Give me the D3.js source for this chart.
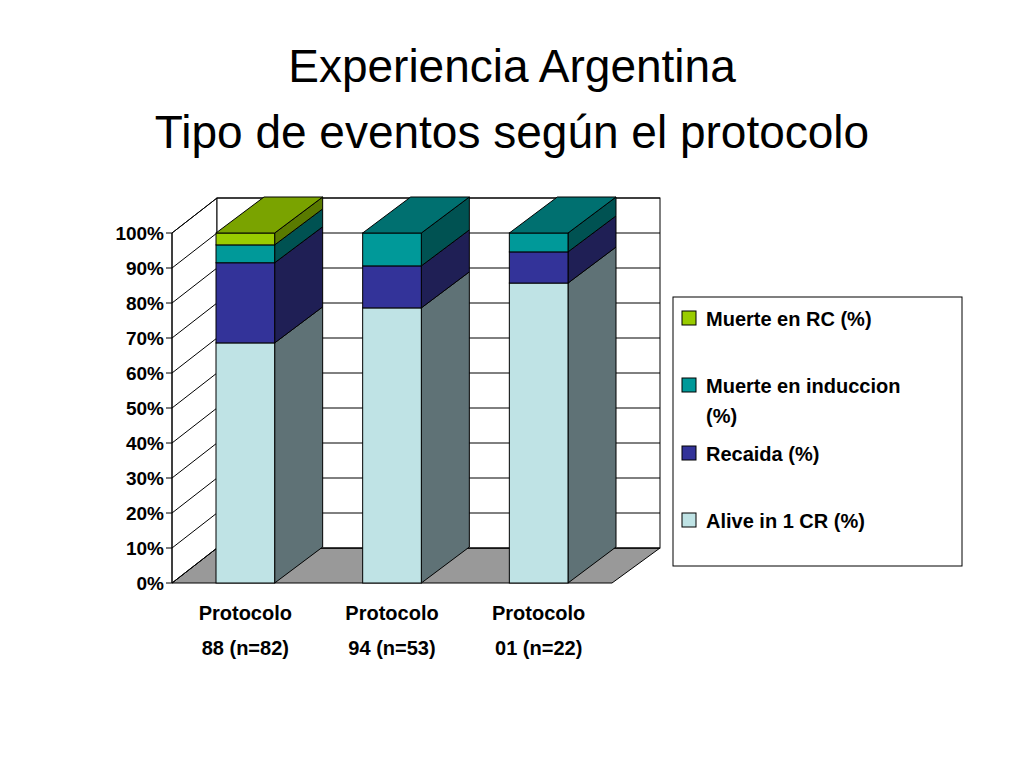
<!DOCTYPE html>
<html><head><meta charset="utf-8">
<script src="https://cdn.jsdelivr.net/npm/d3@7"></script>
<style>body{margin:0;background:#fff}text{font-family:"Liberation Sans",Arial,sans-serif}</style>
</head><body><div class="canvas"></div>
<script>
const categories = [['Protocolo', '88 (n=82)'], ['Protocolo', '94 (n=53)'], ['Protocolo', '01 (n=22)']];
const seriesNames = ['Alive in 1 CR (%)', 'Recaida (%)', 'Muerte en induccion (%)', 'Muerte en RC (%)'];
const alive = [68.6, 78.6, 85.7];
const recaida = [22.9, 12, 8.9];
const induccion = [5.1, 9.4, 5.4];
const muerteRC = [3.4, 0, 0];
const ticks = [0, 10, 20, 30, 40, 50, 60, 70, 80, 90, 100];

const frontFill = ['#bfe3e5', '#333399', '#009999', '#99cc00'];
const sideFill = ['#5f7276', '#1f1f55', '#005252', '#5a7a00'];
const topFill = ['#8fb0b2', '#262670', '#007070', '#7aa300'];

const svg = d3.select('.canvas').append('svg').attr('width', 1024).attr('height', 768);

// title
svg.append('text').attr('x', 512).attr('y', 82).attr('text-anchor', 'middle').attr('font-size', 46).text('Experiencia Argentina');
svg.append('text').attr('x', 512).attr('y', 148).attr('text-anchor', 'middle').attr('font-size', 46).text('Tipo de eventos según el protocolo');

const plot = { left: 172, right: 612, bottom: 583 };
const depth = { dx: 45, dy: -35 };
const y = d3.scaleLinear().domain([0, 100]).range([plot.bottom, 233]);
const x = d3.scaleBand().domain(d3.range(categories.length)).range([plot.left, plot.right]).paddingInner(0.6).paddingOuter(0.3);
const bd = { dx: 48, dy: -36 };
const poly = (pts) => 'M' + pts.map((p) => p.join(',')).join('L') + 'Z';

// floor
svg.append('path')
  .attr('d', poly([[plot.left, plot.bottom], [plot.right, plot.bottom], [plot.right + depth.dx + 3, plot.bottom + depth.dy], [plot.left + depth.dx, plot.bottom + depth.dy]]))
  .attr('fill', '#999').attr('stroke', '#000');
// walls
svg.append('path')
  .attr('d', poly([[plot.left, plot.bottom], [plot.left + depth.dx, plot.bottom + depth.dy], [plot.left + depth.dx, y(100) + depth.dy], [plot.left, y(100)]]))
  .attr('fill', '#fff').attr('stroke', '#000');
svg.append('rect')
  .attr('x', plot.left + depth.dx).attr('y', y(100) + depth.dy)
  .attr('width', plot.right + 3 - plot.left).attr('height', plot.bottom - y(100))
  .attr('fill', '#fff').attr('stroke', '#000');
// grid
ticks.forEach((t) => {
  svg.append('path')
    .attr('d', `M${plot.left},${y(t)}L${plot.left + depth.dx},${y(t) + depth.dy}L${plot.right + depth.dx + 3},${y(t) + depth.dy}`)
    .attr('fill', 'none').attr('stroke', '#000');
});
// axis
svg.append('line').attr('x1', plot.left).attr('x2', plot.left).attr('y1', y(0)).attr('y2', y(100)).attr('stroke', '#000');
ticks.forEach((t) => {
  svg.append('line').attr('x1', plot.left - 6).attr('x2', plot.left).attr('y1', y(t)).attr('y2', y(t)).attr('stroke', '#000');
  svg.append('text').attr('x', plot.left - 8).attr('y', y(t) + 7).attr('text-anchor', 'end')
    .attr('font-size', 19).attr('font-weight', 'bold').text(t + '%');
});

// bars
const series = [alive, recaida, induccion, muerteRC];
categories.forEach((c, i) => {
  const x0 = x(i), w = x.bandwidth();
  let base = 0;
  const segs = [];
  series.forEach((s, k) => { if (s[i] > 0) { segs.push({ k, y0: base, y1: base + s[i] }); base += s[i]; } });
  segs.forEach((sg, j) => {
    const yb = y(sg.y0), yt = y(sg.y1);
    svg.append('path').attr('d', poly([[x0 + w, yb], [x0 + w + bd.dx, yb + bd.dy], [x0 + w + bd.dx, yt + bd.dy], [x0 + w, yt]]))
      .attr('fill', sideFill[sg.k]).attr('stroke', '#000');
    svg.append('rect').attr('x', x0).attr('y', yt).attr('width', w).attr('height', yb - yt)
      .attr('fill', frontFill[sg.k]).attr('stroke', '#000');
    if (j === segs.length - 1) {
      svg.append('path').attr('d', poly([[x0, yt], [x0 + w, yt], [x0 + w + bd.dx, yt + bd.dy], [x0 + bd.dx, yt + bd.dy]]))
        .attr('fill', topFill[sg.k]).attr('stroke', '#000');
    }
  });
  c.forEach((line, l) => {
    svg.append('text').attr('x', x0 + w / 2).attr('y', 620 + l * 35).attr('text-anchor', 'middle')
      .attr('font-size', 20).attr('font-weight', 'bold').text(line);
  });
});

// legend
const lg = svg.append('g').attr('transform', 'translate(673,297)');
lg.append('rect').attr('width', 289).attr('height', 269).attr('fill', '#fff').attr('stroke', '#000');
const legendItems = [
  { k: 3, lines: [seriesNames[3]], y: 22 },
  { k: 2, lines: ['Muerte en induccion', '(%)'], y: 89 },
  { k: 1, lines: [seriesNames[1]], y: 157 },
  { k: 0, lines: [seriesNames[0]], y: 224 }
];
legendItems.forEach((d) => {
  lg.append('rect').attr('x', 9).attr('y', d.y - 8).attr('width', 14).attr('height', 14)
    .attr('fill', frontFill[d.k]).attr('stroke', '#000');
  d.lines.forEach((t, l) => {
    lg.append('text').attr('x', 33).attr('y', d.y + 7 + l * 30).attr('font-size', 20).attr('font-weight', 'bold').text(t);
  });
});
</script></body></html>
